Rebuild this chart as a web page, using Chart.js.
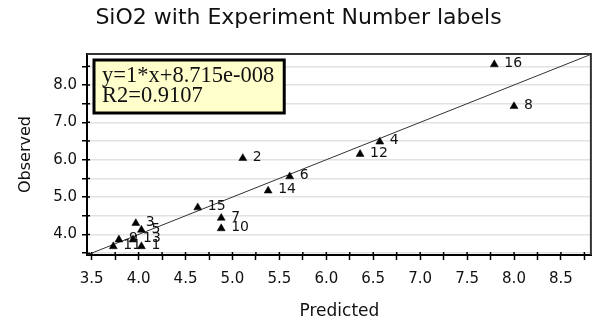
<!DOCTYPE html>
<html>
<head>
<meta charset="utf-8">
<script src="https://cdn.jsdelivr.net/npm/chart.js@4.4.1/dist/chart.umd.min.js"></script>
<style>
  body { margin: 0; background: #fff; }
</style>
</head>
<body>
<canvas id="sioChart" width="597" height="320"></canvas>
<script>
// experiment numbers with predicted / observed SiO2
const expNums   = [1, 2, 3, 4, 5, 6, 7, 8, 9, 10, 11, 12, 13, 14, 15, 16];
const predicted = [4.03, 5.11, 3.97, 6.57, 4.03, 5.61, 4.88, 8.00, 3.79, 4.88, 3.73, 6.36, 3.94, 5.38, 4.63, 7.79];
const observed  = [3.68, 6.04, 4.30, 6.48, 4.12, 5.55, 4.44, 7.43, 3.86, 4.16, 3.68, 6.15, 3.86, 5.17, 4.72, 8.55];

// regression fit
const fitSlope = 1;
const fitIntercept = 8.715e-8;
const fitText = ['y=1*x+8.715e-008', 'R2=0.9107'];

const axisMin = 3.45;
const axisMax = 8.83;

const points = predicted.map((p, i) => ({ x: p, y: observed[i] }));
const fitLine = [axisMin, axisMax].map(v => ({ x: v, y: fitSlope * v + fitIntercept }));

const sans = '"DejaVu Sans", Verdana, sans-serif';

// frame, inner tick stubs, point labels and the fit box
const annotate = {
    id: 'annotate',
    afterDatasetsDraw(chart) {
        const { ctx, chartArea: a, scales } = chart;
        ctx.save();

        ctx.strokeStyle = '#333';
        ctx.lineWidth = 2;
        ctx.beginPath();
        ctx.moveTo(a.left, a.top);
        ctx.lineTo(a.right - 1, a.top);
        ctx.lineTo(a.right - 1, a.bottom);
        ctx.stroke();

        ctx.strokeStyle = '#000';
        ctx.lineWidth = 1.5;
        ctx.beginPath();
        scales.x.ticks.forEach(t => {
            const px = scales.x.getPixelForValue(t.value);
            ctx.moveTo(px, a.bottom);
            ctx.lineTo(px, a.bottom - 3);
        });
        scales.y.ticks.forEach(t => {
            const py = scales.y.getPixelForValue(t.value);
            ctx.moveTo(a.left, py);
            ctx.lineTo(a.left + 3, py);
        });
        ctx.stroke();

        const meta = chart.getDatasetMeta(0);
        ctx.font = '14px ' + sans;
        ctx.fillStyle = '#111';
        ctx.textAlign = 'left';
        ctx.textBaseline = 'middle';
        meta.data.forEach((pt, i) => {
            ctx.fillText(String(expNums[i]), pt.x + 10, pt.y - 1);
        });

        ctx.font = '22.5px "Liberation Serif", "Times New Roman", serif';
        const w = Math.max(...fitText.map(s => ctx.measureText(s).width)) + 18;
        const bx = a.left + 7, by = a.top + 6, bh = 53;
        ctx.fillStyle = '#ffffcc';
        ctx.fillRect(bx, by, w, bh);
        ctx.strokeStyle = '#000';
        ctx.lineWidth = 3;
        ctx.strokeRect(bx, by, w, bh);
        ctx.fillStyle = '#111';
        ctx.textBaseline = 'alphabetic';
        fitText.forEach((s, i) => ctx.fillText(s, bx + 8, by + 22 + i * 20));

        ctx.restore();
    }
};

new Chart(document.getElementById('sioChart'), {
    type: 'scatter',
    data: {
        datasets: [
            {
                label: 'SiO2',
                data: points,
                pointStyle: 'triangle',
                pointRadius: 4.6,
                backgroundColor: '#000',
                borderColor: '#000',
                borderWidth: 0.5
            },
            {
                type: 'line',
                label: 'fit',
                data: fitLine,
                borderColor: '#333',
                borderWidth: 1,
                pointRadius: 0,
                fill: false
            }
        ]
    },
    options: {
        responsive: false,
        animation: false,
        devicePixelRatio: 1,
        layout: { padding: 0 },
        plugins: {
            legend: { display: false },
            tooltip: { enabled: false },
            title: {
                display: true,
                text: 'SiO2 with Experiment Number labels',
                color: '#111',
                font: { family: sans, size: 22, weight: 'normal' },
                padding: { top: 5, bottom: 22.6 }
            }
        },
        scales: {
            x: {
                type: 'linear',
                min: axisMin,
                max: axisMax,
                afterFit: s => { s.height = 65; },
                ticks: {
                    stepSize: 0.25,
                    includeBounds: false,
                    autoSkip: false,
                    maxRotation: 0,
                    padding: 10,
                    color: '#111',
                    font: { family: sans, size: 15 },
                    callback: v => Math.abs(v * 2 - Math.round(v * 2)) < 1e-6 ? v.toFixed(1) : ''
                },
                grid: { drawOnChartArea: false, tickLength: 5, tickColor: '#000', tickWidth: 1.5 },
                border: { color: '#000', width: 2 },
                title: {
                    display: true,
                    text: 'Predicted',
                    color: '#111',
                    font: { family: sans, size: 17, lineHeight: 1 },
                    padding: { top: 0, bottom: 0 }
                }
            },
            y: {
                type: 'linear',
                min: axisMin,
                max: axisMax,
                afterFit: s => { s.width = 87; },
                ticks: {
                    stepSize: 0.5,
                    includeBounds: false,
                    autoSkip: false,
                    padding: 5,
                    color: '#111',
                    font: { family: sans, size: 15 },
                    callback: v => Math.abs(v - Math.round(v)) < 1e-6 ? v.toFixed(1) : ''
                },
                grid: { color: '#e2e2e2', lineWidth: 1.5, tickLength: 5, tickColor: '#000', tickWidth: 1.5 },
                border: { color: '#000', width: 2 },
                title: {
                    display: true,
                    text: 'Observed',
                    color: '#111',
                    font: { family: sans, size: 16 },
                    padding: { top: 16, bottom: 0 }
                }
            }
        }
    },
    plugins: [annotate]
});
</script>
</body>
</html>
